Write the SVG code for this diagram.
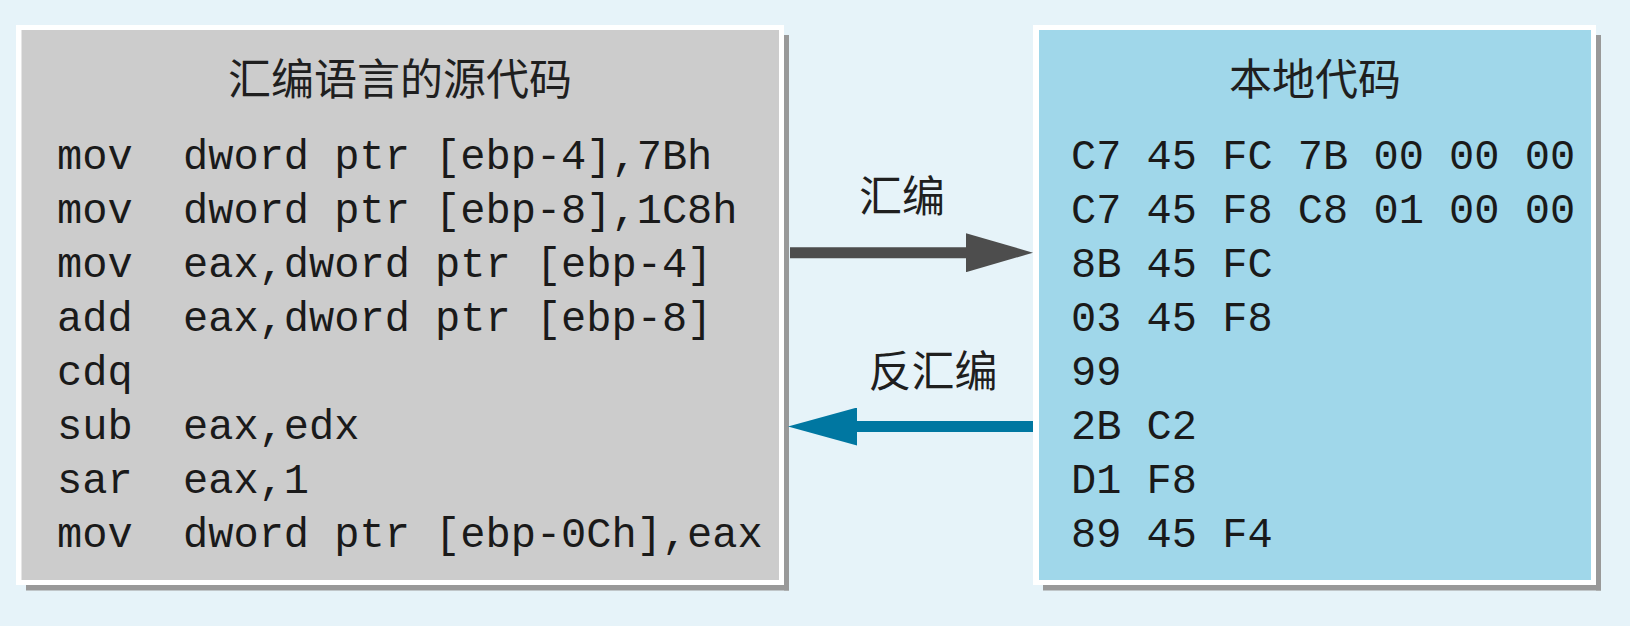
<svg xmlns="http://www.w3.org/2000/svg" width="1630" height="626" viewBox="0 0 1630 626">
<style>
.frame{fill:#ffffff}
.shadow{fill:#999999}
.code{font-family:"Liberation Mono","DejaVu Sans Mono",monospace;font-size:42px;fill:#1a1a1a}
.cjk{font-family:"Noto Sans CJK SC","Noto Sans",sans-serif;font-size:43px;fill:#1f1f1f}
.title{text-anchor:middle}
</style>
<defs>
<marker id="headDark" markerUnits="userSpaceOnUse" markerWidth="67" markerHeight="39" viewBox="0 0 67 39" refX="0" refY="19.5" orient="auto">
<path d="M0,0 L67,19.5 L0,39 Z" fill="#4d4d4d"/>
</marker>
<marker id="headBlue" markerUnits="userSpaceOnUse" markerWidth="69" markerHeight="38" viewBox="0 0 69 38" refX="0" refY="19" orient="auto">
<path d="M0,0 L69,19 L0,38 Z" fill="#0077a1"/>
</marker>
</defs>
<rect x="0" y="0" width="1630" height="626" fill="#e6f3f9"/>

<g id="node-asm">
<rect class="shadow" x="26" y="585" width="763" height="5.5"/>
<rect class="shadow" x="784" y="35" width="5" height="555.5"/>
<rect class="frame" x="16" y="25" width="768" height="560"/>
<rect x="21.5" y="30" width="757.5" height="550" fill="#cccccc"/>
<text class="cjk title" x="400" y="95">汇编语言的源代码</text>
<text class="code" xml:space="preserve" x="57" y="169">mov  dword ptr [ebp-4],7Bh</text>
<text class="code" xml:space="preserve" x="57" y="223">mov  dword ptr [ebp-8],1C8h</text>
<text class="code" xml:space="preserve" x="57" y="277">mov  eax,dword ptr [ebp-4]</text>
<text class="code" xml:space="preserve" x="57" y="331">add  eax,dword ptr [ebp-8]</text>
<text class="code" xml:space="preserve" x="57" y="385">cdq</text>
<text class="code" xml:space="preserve" x="57" y="439">sub  eax,edx</text>
<text class="code" xml:space="preserve" x="57" y="493">sar  eax,1</text>
<text class="code" xml:space="preserve" x="57" y="547">mov  dword ptr [ebp-0Ch],eax</text>
</g>

<g id="node-native">
<rect class="shadow" x="1043" y="585" width="558" height="5.5"/>
<rect class="shadow" x="1596" y="35" width="5" height="555.5"/>
<rect class="frame" x="1033" y="25" width="563" height="560"/>
<rect x="1039" y="30" width="552" height="550" fill="#a0d7ea"/>
<text class="cjk title" x="1315" y="95">本地代码</text>
<text class="code" xml:space="preserve" x="1071" y="169">C7 45 FC 7B 00 00 00</text>
<text class="code" xml:space="preserve" x="1071" y="223">C7 45 F8 C8 01 00 00</text>
<text class="code" xml:space="preserve" x="1071" y="277">8B 45 FC</text>
<text class="code" xml:space="preserve" x="1071" y="331">03 45 F8</text>
<text class="code" xml:space="preserve" x="1071" y="385">99</text>
<text class="code" xml:space="preserve" x="1071" y="439">2B C2</text>
<text class="code" xml:space="preserve" x="1071" y="493">D1 F8</text>
<text class="code" xml:space="preserve" x="1071" y="547">89 45 F4</text>
</g>

<g id="connectors">
<line x1="790" y1="252.7" x2="966" y2="252.7" stroke="#4d4d4d" stroke-width="11" marker-end="url(#headDark)"/>
<text class="cjk" x="902" y="212" text-anchor="middle">汇编</text>
<line x1="1033" y1="426.5" x2="857" y2="426.5" stroke="#0077a1" stroke-width="11" marker-end="url(#headBlue)"/>
<text class="cjk" x="933" y="387" text-anchor="middle">反汇编</text>
</g>
</svg>
